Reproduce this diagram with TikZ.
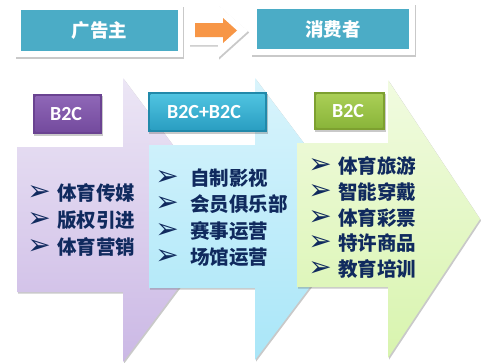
\documentclass[tikz,border=0pt]{standalone}
\usepackage{fontspec}
\newfontfamily\cjk{Noto Sans CJK SC}
\newfontfamily\lat{Carlito}
\newfontfamily\dv{DejaVu Sans}
\usetikzlibrary{shadows}
\definecolor{navy}{HTML}{102A5E}
\definecolor{teal}{HTML}{4BACC6}
\definecolor{orng}{HTML}{F79646}
\definecolor{puA}{HTML}{ECE6F5}\definecolor{puB}{HTML}{CBB8E5}
\definecolor{blA}{HTML}{D9F4FC}\definecolor{blB}{HTML}{A9E6F8}
\definecolor{grA}{HTML}{F1FBE0}\definecolor{grB}{HTML}{D8F4AE}
\definecolor{tpD}{HTML}{6A4391}\definecolor{tpA}{HTML}{8E66B6}\definecolor{tpB}{HTML}{744B9E}
\definecolor{tbD}{HTML}{2189AA}\definecolor{tbA}{HTML}{4FC3E0}\definecolor{tbB}{HTML}{2A9EC2}
\definecolor{tgD}{HTML}{7DA030}\definecolor{tgA}{HTML}{A9CE55}\definecolor{tgB}{HTML}{8AB53A}
\tikzset{
  shd/.style={drop shadow={shadow xshift=1.2pt,shadow yshift=-1.5pt,opacity=0.3,fill=black!70}},
  frame/.style={fill=white,shd},
  headbox/.style={fill=teal},
  headtxt/.style={text=white,font=\cjk\bfseries\fontsize{18.5}{18.5}\selectfont},
  tag/.style={text=white,font=\lat\bfseries\fontsize{20}{20}\selectfont},
  item/.style={text=navy,anchor=west,font=\cjk\bfseries\fontsize{19.5}{19.5}\selectfont,inner sep=0pt},
  bul/.style={text=navy,anchor=center,font=\dv\fontsize{28}{28}\selectfont,inner sep=0pt},
}
\begin{document}
\begin{tikzpicture}[x=1pt,y=-1pt]
\useasboundingbox (0,0) rectangle (481,362);
% top boxes
\path[frame] (15,5) rectangle (183,57);
\path[headbox] (21,10) rectangle (178,51);
\node[headtxt] (adv) at (99.5,31) {广告主};
\path[frame] (251,3) rectangle (415,55);
\path[headbox] (257,9) rectangle (409,49);
\node[headtxt] (con) at (333,29) {消费者};
% connecting arrow
\path[frame] (189,17) -- (218,17) -- (218,5) -- (248,31) -- (218,58) -- (218,45) -- (189,45) -- cycle;
\path[fill=orng] (195,23) -- (223,23) -- (223,18) -- (237,30.5) -- (223,43) -- (223,37) -- (195,37) -- cycle;
% big arrows
\path[shd,top color=puA,bottom color=puB]
  (17,147) -- (123,147) -- (123,78) -- (229,220) -- (123,362) -- (123,292) -- (17,292) -- cycle;
\path[shd,top color=blA,bottom color=blB]
  (149,145) -- (255,145) -- (255,78) -- (361,219) -- (255,360) -- (255,288) -- (149,288) -- cycle;
\path[shd,top color=grA,bottom color=grB]
  (297,143) -- (388,143) -- (388,80) -- (480,219) -- (388,358) -- (388,287) -- (297,287) -- cycle;
% tags
\path[shd,fill=tpD] (33,94) rectangle (102,134);
\path[top color=tpA,bottom color=tpB] (35.5,96.5) rectangle (99.5,131.5);
\node[tag] (t1) at (66,114) {B2C};
\path[shd,fill=tbD] (148,92) rectangle (267,132);
\path[top color=tbA,bottom color=tbB] (150.5,94.5) rectangle (264.5,129.5);
\node[tag] (t2) at (204,112) {B2C+B2C};
\path[shd,fill=tgD] (314,92) rectangle (385,130);
\path[top color=tgA,bottom color=tgB] (316.5,94.5) rectangle (382.5,127.5);
\node[tag] (t3) at (348,111) {B2C};
% lists
\foreach \t [count=\i] in {体育传媒,版权引进,体育营销}{
  \node[bul] (pb\i) at (39,{193+27*(\i-1)}) {➢};
  \node[item] (p\i) at (57,{193+27*(\i-1)}) {\t};
}
\foreach \t [count=\i] in {自制影视,会员俱乐部,赛事运营,场馆运营}{
  \node[bul] (bb\i) at (167,{178+26.3*(\i-1)}) {➢};
  \node[item] (b\i) at (190,{178+26.3*(\i-1)}) {\t};
}
\foreach \t [count=\i] in {体育旅游,智能穿戴,体育彩票,特许商品,教育培训}{
  \node[bul] (gb\i) at (320,{166+25.8*(\i-1)}) {➢};
  \node[item] (g\i) at (338,{166+25.8*(\i-1)}) {\t};
}
\end{tikzpicture}
\end{document}
